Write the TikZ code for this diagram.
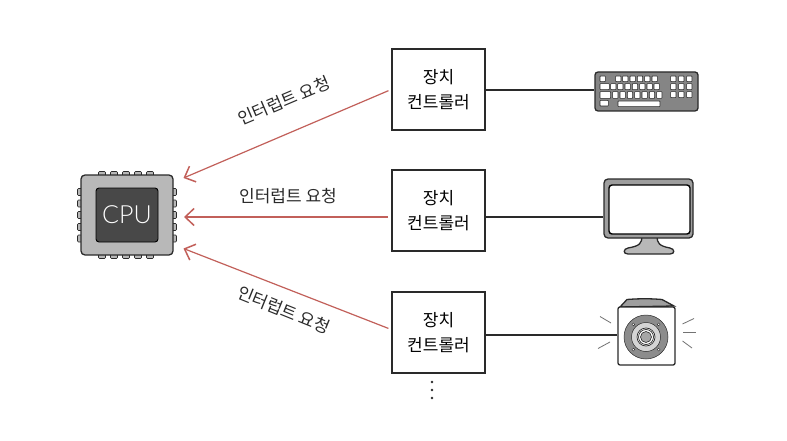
\documentclass[tikz,border=0pt]{standalone}
\usepackage{fontspec}
\newfontfamily\krfont{Noto Sans CJK KR}
\newfontfamily\cpufont{Lato Light}
\usetikzlibrary{arrows.meta}
\definecolor{reqred}{HTML}{C2605A}
\definecolor{bodygray}{HTML}{B8B8B8}
\definecolor{corecol}{HTML}{484848}
\definecolor{linecol}{HTML}{2A2A2A}
\tikzset{
  ctrlbox/.style={draw=linecol,line width=1.6pt,fill=white,minimum width=93pt,minimum height=81pt,inner sep=0pt,align=center,font=\krfont\fontsize{17}{25.5}\selectfont},
  reqarrow/.style={draw=reqred,line width=1.2pt,shorten <=3pt,-{Straight Barb[length=9pt,width=17pt,line width=1.5pt]}},
  wire/.style={draw=linecol,line width=1.6pt},
  reqlabel/.style={font=\krfont\fontsize{17}{18}\selectfont,text=linecol,inner sep=0pt},
  pin/.style={draw=linecol,line width=.7pt,fill=bodygray,rounded corners=1pt},
  kbkey/.style={draw=linecol,line width=.6pt,fill=white,rounded corners=.6pt},
  ray/.style={draw=black!55,line width=.8pt},
  device/.style={draw=linecol,line width=1.3pt,inner sep=0pt},
}
\begin{document}
\begin{tikzpicture}[x=1pt,y=-1pt]
\useasboundingbox[fill=white] (0,0) rectangle (787,441);
% CPU pins
\foreach \x in {102,114,126,138,150}{
  \draw[pin] (\x-3.5,171.5) rectangle (\x+3.5,178);
  \draw[pin] (\x-3.5,252) rectangle (\x+3.5,258.5);
}
\foreach \y in {192,203.5,215,227,238.5}{
  \draw[pin] (77.5,\y-3.5) rectangle (84,\y+3.5);
  \draw[pin] (170,\y-3.5) rectangle (176.5,\y+3.5);
}
\node[draw=linecol,line width=1.3pt,fill=bodygray,rounded corners=4pt,minimum width=92pt,minimum height=80pt,inner sep=0pt] (cpu) at (127,215) {};
\node[draw=black,line width=.9pt,fill=corecol,rounded corners=3pt,minimum width=62pt,minimum height=54pt,inner sep=0pt,text=white,font=\cpufont\fontsize{25}{28}\selectfont] (core) at (127,215) {CPU};
% controllers
\node[ctrlbox] (box1) at (438.5,89.5) {장치\\컨트롤러};
\node[ctrlbox] (box2) at (438.5,210.5) {장치\\컨트롤러};
\node[ctrlbox] (box3) at (438.5,332.5) {장치\\컨트롤러};
% keyboard
\node[device,fill=black!48,rounded corners=3pt,minimum width=103pt,minimum height=39pt] (kb) at (646.5,91.5) {};
\foreach \a/\b/\c/\d in {
 60/63/76/80, 107/63/123/80,128/63/144/80,150/63/166/80,172/63/188/80,194/63/210/80,216/63/232/80,
 60/86/88/104, 92/86/108/104,113/86/129/104,135/86/151/104,157/86/173/104,179/86/195/104,201/86/217/104,222/86/238/104,
 60/110/92/130, 98/110/114/130,120/110/136/130,142/110/158/130,164/110/180/130,186/110/202/130,208/110/224/130,230/110/246/130,
 60/136/85/153, 114/138/240/155,
 272/63/288/80,296/63/312/80,320/63/336/80,
 272/86/288/104,296/86/312/104,320/86/336/104,
 272/110/288/128,296/110/312/128,320/110/336/128}{
  \draw[kbkey] (580+\a/3,55+\b/3) rectangle (580+\c/3,55+\d/3);
}
% monitor
\draw[device,fill=bodygray] (642,236) .. controls (642,243) and (640,246) .. (628,248) .. controls (623,249) and (623,254) .. (628,254) -- (670,254) .. controls (675,254) and (675,249) .. (670,248) .. controls (659,246) and (657,243) .. (657,236) -- cycle;
\node[device,fill=black!38,rounded corners=4pt,minimum width=89pt,minimum height=59pt] (mon) at (648.5,208.5) {};
\node[draw=black,line width=1.4pt,fill=white,rounded corners=3pt,minimum width=81pt,minimum height=49pt,inner sep=0pt] (screen) at (649.5,209.5) {};
% speaker
\draw[device,fill=black!38] (620,307) -- (627,299.5) .. controls (640,298.5) and (650,298.5) .. (662,299.5) -- (674,306) -- cycle;
\node[device,fill=white,rounded corners=2pt,minimum width=57pt,minimum height=58pt] (spk) at (646.5,336) {};
\fill[black!45,draw=linecol,line width=.5pt] (646,337) circle (22);
\fill[bodygray!60,draw=linecol,line width=.5pt] (646,337) circle (14.5);
\draw[linecol,line width=.7pt,fill=white] (646,337) circle (9);
\draw[linecol,line width=.7pt,fill=white] (646,337) circle (7.5);
\draw[linecol,line width=.6pt,fill=black!35] (646,337) circle (5.5);
\foreach \a in {45,135,225,315}{\fill[white,draw=linecol,line width=.4pt] (646,337) ++(\a:17.8) circle (1.4);}
\draw[ray] (600,316.5) -- (611,323);
\draw[ray] (598,348.5) -- (610,342);
\draw[ray] (682.5,324) -- (694,318.5);
\draw[ray] (683,332.5) -- (696,332.5);
\draw[ray] (682.5,341) -- (692,348);
% wires
\draw[wire] (box1.east |- 0,90) -- (kb.west |- 0,90);
\draw[wire] (box2.east |- 0,217) -- (mon.west |- 0,217);
\draw[wire] (box3.east |- 0,335) -- (spk.west |- 0,335);
% request arrows
\coordinate (tipA) at (183.5,178);
\coordinate (tipB) at (184,217);
\coordinate (tipC) at (183.5,248.5);
\coordinate (startB) at (box2.west |- tipB);
\draw[reqarrow] (box1.west) -- (tipA);
\draw[reqarrow] (startB) -- (tipB);
\draw[reqarrow] ([yshift=3pt]box3.west) -- (tipC);
% labels
\node[reqlabel,rotate=23] (lab1) at (284,101) {인터럽트 요청};
\node[reqlabel] (lab2) at (288,196) {인터럽트 요청};
\node[reqlabel,rotate=-22] (lab3) at (284,310) {인터럽트 요청};
% continuation
\foreach \n/\y in {d1/382,d2/390,d3/398}{\fill[linecol] (432,\y) circle (1.3) coordinate (\n);}
\end{tikzpicture}
\end{document}
